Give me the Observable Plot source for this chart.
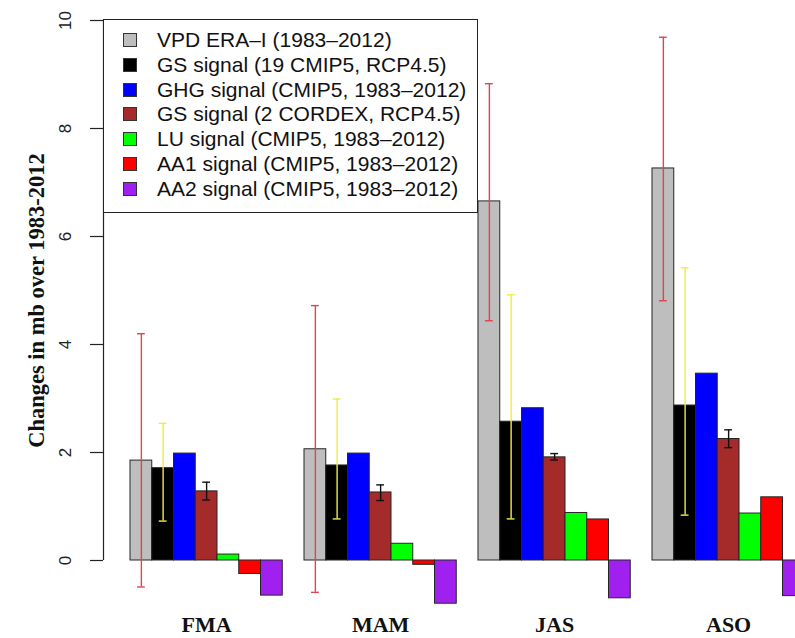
<!DOCTYPE html>
<html><head><meta charset="utf-8">
<script src="https://cdn.jsdelivr.net/npm/d3@7"></script>
<script src="https://cdn.jsdelivr.net/npm/@observablehq/plot@0.6"></script>
<style>
body{margin:0;background:#fff;overflow:hidden;}
#wrap{position:relative;width:795px;height:638px;overflow:hidden;}
#legend{position:absolute;left:103px;top:19px;width:375px;height:194px;border:1px solid #222;background:#fff;font-family:"Liberation Sans",Arial,sans-serif;font-size:21px;box-sizing:border-box;color:#111;}
.row{position:absolute;left:0;height:24.8px;display:flex;align-items:center;white-space:nowrap;}
.sw{width:14px;height:14px;border:1px solid #333;box-sizing:border-box;margin-left:19px;margin-right:20px;flex:none;}
</style></head><body><div id="wrap"></div>
<script>
// ---- data ----
const seasons = ["FMA", "MAM", "JAS", "ASO"];
const seriesNames = [
  "VPD ERA–I (1983–2012)",
  "GS signal (19 CMIP5, RCP4.5)",
  "GHG signal (CMIP5, 1983–2012)",
  "GS signal (2 CORDEX, RCP4.5)",
  "LU signal (CMIP5, 1983–2012)",
  "AA1 signal (CMIP5, 1983–2012)",
  "AA2 signal (CMIP5, 1983–2012)"
];
const seriesColors = ["#BEBEBE", "#000000", "#0000FF", "#A52A2A", "#00FF00", "#FF0000", "#A020F0"];
const vpdEra   = [1.85, 2.06, 6.65, 7.26];
const gsCmip   = [1.71, 1.76, 2.57, 2.87];
const ghg      = [1.98, 1.98, 2.82, 3.46];
const gsCordex = [1.28, 1.26, 1.91, 2.25];
const lu       = [0.11, 0.31, 0.88, 0.87];
const aa1      = [-0.25, -0.08, 0.76, 1.17];
const aa2      = [-0.65, -0.80, -0.70, -0.66];
const vpdLo = [-0.49, -0.59, 4.44, 4.81];
const vpdHi = [4.20, 4.72, 8.83, 9.69];
const gsCmipLo = [0.73, 0.77, 0.77, 0.84];
const gsCmipHi = [2.54, 2.99, 4.92, 5.42];
const gsCordexLo = [1.12, 1.11, 1.86, 2.09];
const gsCordexHi = [1.45, 1.40, 1.98, 2.42];
const yTicks = [0, 2, 4, 6, 8, 10];
const yLabel = "Changes in mb over 1983-2012";

// ---- build tables ----
const seriesValues = [vpdEra, gsCmip, ghg, gsCordex, lu, aa1, aa2];
const nSeries = seriesValues.length;
const groupStep = nSeries + 1; // one empty bar between groups
const bars = seasons.flatMap((s, g) => seriesValues.map((vals, i) => ({
  season: s, series: seriesNames[i], value: vals[g], left: 1 + groupStep * g + i
})));
const errSpecs = [
  {idx: 0, lo: vpdLo, hi: vpdHi, color: "#e2434f"},
  {idx: 1, lo: gsCmipLo, hi: gsCmipHi, color: "#eded40"},
  {idx: 3, lo: gsCordexLo, hi: gsCordexHi, color: "#111111"}
];
const capHalf = 0.18;
const errMarks = errSpecs.flatMap(e => {
  const rows = seasons.map((s, g) => ({center: 1 + groupStep * g + e.idx + 0.5, lo: e.lo[g], hi: e.hi[g]}));
  return [
    Plot.ruleX(rows, {x: "center", y1: "lo", y2: "hi", stroke: e.color, strokeWidth: 1.4}),
    Plot.ruleY(rows, {y: "hi", x1: d => d.center - capHalf, x2: d => d.center + capHalf, stroke: e.color, strokeWidth: 1.4}),
    Plot.ruleY(rows, {y: "lo", x1: d => d.center - capHalf, x2: d => d.center + capHalf, stroke: e.color, strokeWidth: 1.4})
  ];
});
const W = 795, ML = 103;
const xMin = -0.2414, xMax = 31.575;
const unitsPerPx = (xMax - xMin) / (W - ML);
const tickLen = 13;

const chart = Plot.plot({
  width: W, height: 638,
  marginLeft: ML, marginRight: 0, marginTop: 20, marginBottom: 78,
  style: {background: "white", overflow: "hidden"},
  x: {domain: [xMin, xMax], axis: null},
  y: {domain: [0, 10], axis: null},
  color: {domain: seriesNames, range: seriesColors},
  marks: [
    Plot.rect(bars, {x1: "left", x2: d => d.left + 1, y1: 0, y2: "value", fill: "series", stroke: "#262626", strokeWidth: 1}),
    ...errMarks,
    Plot.ruleX([xMin], {y1: 0, y2: 10, stroke: "#222", strokeWidth: 1.2}),
    Plot.ruleY(yTicks, {y: d => d, x1: xMin - tickLen * unitsPerPx, x2: xMin, stroke: "#222", strokeWidth: 1.2}),
    Plot.text(yTicks, {y: d => d, text: d => String(d), frameAnchor: "left", dx: -37.5, rotate: -90,
      textAnchor: "middle", lineAnchor: "middle", fontSize: 17, fontFamily: "Liberation Sans, Arial, sans-serif", fill: "#222"}),
    Plot.text(seasons, {x: (d, i) => 1 + groupStep * i + nSeries / 2, frameAnchor: "bottom", dy: 64, text: d => d,
      textAnchor: "middle", lineAnchor: "middle",
      fontFamily: "Liberation Serif, Times New Roman, serif", fontWeight: "bold", fontSize: 22, fill: "#111"}),
    Plot.text([yLabel], {frameAnchor: "left", dx: -67, dy: 10, rotate: -90, text: d => d,
      textAnchor: "middle", lineAnchor: "middle",
      fontFamily: "Liberation Serif, Times New Roman, serif", fontWeight: "bold", fontSize: 22.5, fill: "#111"})
  ]
});
const wrap = document.getElementById("wrap");
wrap.appendChild(chart);

// legend (inside plot area, top-left)
const legend = document.createElement("div");
legend.id = "legend";
seriesNames.forEach((name, i) => {
  const row = document.createElement("div");
  row.className = "row";
  row.style.top = (21 + 24.8 * i - 12.4 - 1) + "px";
  const sw = document.createElement("span");
  sw.className = "sw";
  sw.style.background = seriesColors[i];
  const t = document.createElement("span");
  t.textContent = name;
  row.appendChild(sw); row.appendChild(t);
  legend.appendChild(row);
});
wrap.appendChild(legend);
</script>
</body></html>
